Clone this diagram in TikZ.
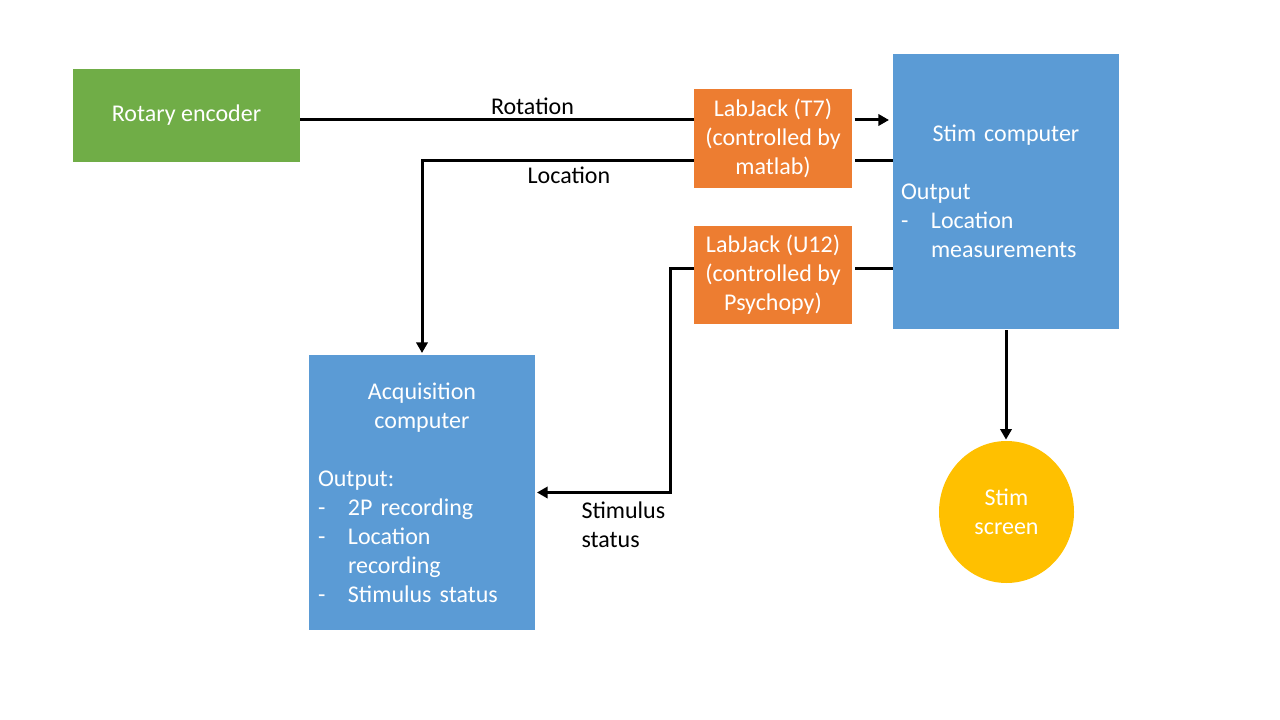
\documentclass[tikz,border=0pt]{standalone}
\usepackage{fontspec}
\setmainfont{Carlito}
\usetikzlibrary{arrows.meta,shapes.geometric}
\definecolor{encgreen}{HTML}{70AD47}
\definecolor{jackorange}{HTML}{ED7D31}
\definecolor{pcblue}{HTML}{5B9BD5}
\definecolor{screenyellow}{HTML}{FFC000}
\newcommand{\dashitem}[1]{\makebox[22.5pt][l]{-}#1}
\newcommand{\noitem}[1]{\hspace*{22.5pt}#1}
\begin{document}
\begin{tikzpicture}[x=0.75pt,y=-0.75pt,font=\fontsize{18}{21.75}\selectfont,line width=2.25pt,>={Triangle[length=8pt,width=8.5pt]}]
\tikzset{box/.style={inner sep=0pt,outer sep=0pt,anchor=north west,text=white,align=center},
lbl/.style={text=black,inner sep=3pt}}
\useasboundingbox (0,0) rectangle (1280,720);
% boxes
\node[box,fill=encgreen,minimum width=170.25pt,minimum height=69.75pt] (enc) at (73,69) {Rotary encoder};
\node[box,fill=jackorange,minimum width=118.5pt,minimum height=74.25pt] (tseven) at (694,89) {LabJack (T7)\\(controlled by\\matlab)};
\node[box,fill=jackorange,minimum width=118.5pt,minimum height=73.5pt] (utwelve) at (694,226) {LabJack (U12)\\(controlled by\\Psychopy)};
\node[box,fill=pcblue,minimum width=169.5pt,minimum height=206.25pt,text width=157.5pt,align=left] (stim) at (893,54)
{\makebox[157.5pt]{Stim computer}\\[21.75pt]Output\\\dashitem{Location}\\\noitem{measurements}};
\node[box,fill=pcblue,minimum width=169.5pt,minimum height=206.25pt,text width=156pt,align=left] (acq) at (309,355)
{\makebox[156pt]{Acquisition}\\\makebox[156pt]{computer}\\[21.75pt]Output:\\\dashitem{2P recording}\\\dashitem{Location}\\\noitem{recording}\\\dashitem{Stimulus status}};
\node[ellipse,fill=screenyellow,text=white,inner sep=0pt,outer sep=0pt,minimum width=101.25pt,minimum height=106.5pt,align=center] (screen) at (1006.5,512) {Stim\\screen};
% rows and columns of the connectors
\coordinate (ya) at (0,120);
\coordinate (yb) at (0,161);
\coordinate (yc) at (0,268);
\coordinate (xs) at (670,0);
% connectors
\draw (enc.east |- ya) -- node[lbl,above,pos=0.59]{Rotation} (tseven.west |- ya);
\draw[->,shorten <=2pt,shorten >=3pt] (tseven.east |- ya) -- (stim.west |- ya);
\draw[shorten >=2pt] (stim.west |- yb) -- (tseven.east |- yb);
\draw[->,shorten >=1.5pt] (tseven.west |- yb) -- node[lbl,below,pos=0.46]{Location} (acq.north |- yb) -- (acq.north);
\draw[shorten >=2pt] (stim.west |- yc) -- (utwelve.east |- yc);
\draw[->,shorten >=1.5pt] (utwelve.west |- yc) -- (xs |- yc) -- (xs |- acq.east) -- (acq.east);
\node[lbl,anchor=north west,align=left] (stimlbl) at (576,496) {Stimulus\\status};
\draw[->,shorten <=1pt,shorten >=1pt] (stim.south) -- (stim.south |- screen.north);
\end{tikzpicture}
\end{document}
